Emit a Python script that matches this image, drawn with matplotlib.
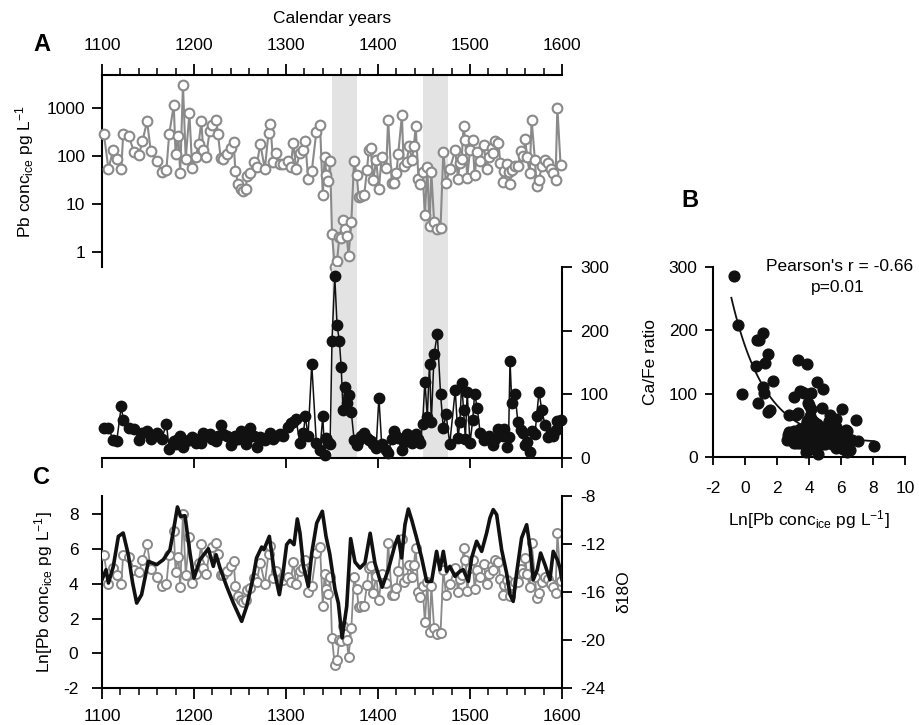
import numpy as np
import matplotlib
matplotlib.use("Agg")
import matplotlib.pyplot as plt
from matplotlib.ticker import MultipleLocator, FixedLocator, NullLocator

plt.rcParams['font.family'] = ['Liberation Sans', 'DejaVu Sans']
plt.rcParams['mathtext.fontset'] = 'custom'
plt.rcParams['mathtext.rm'] = 'Liberation Sans'
plt.rcParams['mathtext.it'] = 'Liberation Sans:italic'
plt.rcParams['mathtext.bf'] = 'Liberation Sans:bold'
plt.rcParams['font.size'] = 12.5
plt.rcParams['axes.unicode_minus'] = False

# ---- data ---------------------------------------------------------------
years = [1102, 1107, 1112, 1116, 1121, 1123, 1129, 1135, 1140, 1144, 1149, 1153,
         1160, 1165, 1170, 1173, 1178, 1180, 1183, 1185, 1188, 1191, 1195, 1198,
         1202, 1205, 1208, 1210, 1213, 1217, 1220, 1224, 1226, 1229, 1232, 1236,
         1240, 1243, 1245, 1248, 1251, 1253, 1256, 1258, 1261, 1265, 1268, 1272,
         1277, 1281, 1283, 1286, 1289, 1293, 1297, 1302, 1305, 1308, 1311, 1315,
         1319, 1321, 1324, 1328, 1333, 1337, 1340, 1342, 1344, 1346, 1348, 1350,
         1353, 1355.5, 1358, 1360, 1362, 1364, 1366, 1368, 1371, 1374, 1377, 1379,
         1382, 1385, 1388, 1390, 1392, 1395, 1398, 1401, 1404, 1409, 1411, 1415,
         1417, 1420, 1422, 1426, 1428, 1431, 1434, 1437, 1439, 1441, 1444, 1446,
         1448.5, 1451, 1453.6, 1456, 1458, 1461, 1464.5, 1468, 1471, 1474, 1478, 1484,
         1487, 1489, 1491, 1493, 1495, 1497, 1500, 1503, 1505, 1508, 1511, 1515,
         1518, 1521, 1523.5, 1525, 1527, 1531, 1533, 1535.5, 1537, 1540, 1542, 1543.5,
         1545.5, 1549, 1552, 1556, 1558, 1560, 1562, 1565, 1567, 1570.6, 1572.5, 1575,
         1578, 1581.5, 1585, 1588, 1590, 1593, 1595, 1598.5]

pb_conc = [290, 55, 133, 89, 55, 290, 262, 123, 105, 209, 537, 129,
           80, 48, 53, 290, 1150, 110, 262, 45, 3090, 89, 790, 58,
           97, 183, 537, 133, 97, 330, 443, 580, 296, 93, 89, 114,
           152, 200, 49, 27, 21, 19, 21, 38, 44, 76, 60, 183,
           55, 310, 480, 76, 117, 68, 68, 80, 60, 190, 55, 117,
           138, 209, 34, 49, 324, 457, 15.5, 97, 40, 31, 80, 2.4,
           0.5, 0.66, 2.1, 2.0, 4.8, 3.0, 2.2, 0.82, 4.2, 80, 40, 14,
           15, 15.5, 51, 138, 152, 32, 85, 21, 97, 58, 580, 28,
           28, 44, 114, 710, 62, 76, 162, 83, 162, 422, 34, 26,
           47, 5.9, 60, 3.5, 47, 4.3, 3.0, 3.25, 123, 28, 55, 133,
           34, 73, 90, 422, 215, 36, 133, 215, 40, 123, 80, 171,
           55, 97, 152, 120, 209, 190, 71, 29, 50, 68, 47, 27,
           51, 62, 62, 129, 100, 234, 97, 45, 580, 83, 24, 32,
           62, 83, 71, 55, 45, 32, 1030, 65]

ca_fe = [47, 47, 29, 27, 82, 60, 47, 45, 29, 39, 43, 30,
         40, 30, 54, 14, 26, 22, 30, 34, 18, 26, 28, 33,
         24, 30, 23, 40, 35, 37, 30, 27, 35, 52, 37, 34,
         21, 28, 34, 30, 42, 35, 22, 30, 47, 35, 18, 33,
         29, 35, 39, 30, 34, 38, 35, 48, 55, 57, 61, 23,
         40, 66, 34, 147, 24, 13, 66, 5, 31, 25, 22, 184,
         286, 209, 184, 143, 75, 111, 86, 99, 72, 29, 21, 28,
         35, 40, 31, 29, 26, 22, 16, 95, 22, 13, 8, 30,
         42, 35, 31, 12, 25, 37, 30, 23, 30, 38, 30, 23,
         54, 120, 65, 148, 57, 163, 195, 101, 47, 69, 22, 107,
         31, 56, 118, 76, 30, 103, 23, 60, 101, 78, 40, 29,
         30, 34, 28, 21, 30, 45, 40, 35, 45, 18, 33, 153,
         86, 101, 57, 44, 40, 21, 25, 9, 42, 37, 66, 104,
         76, 52, 33, 40, 35, 44, 58, 59]

d18o_years = [1100, 1104.4, 1107, 1112.3, 1117.8, 1123, 1128.6, 1133.3, 1137.7, 1143,
              1150.4, 1159.4, 1166.7, 1173.9, 1177.5, 1182, 1185.5, 1190.2, 1195.6, 1200,
              1206.5, 1215.6, 1221, 1224, 1228.3, 1235.5, 1242.8, 1251.8, 1257.3, 1264.5,
              1268, 1273.6, 1276, 1281.9, 1287, 1292.8, 1297, 1300.7, 1304.3, 1308.7,
              1312.3, 1315.2, 1319, 1324.3, 1328, 1333.4, 1339.5, 1343.5, 1347.5, 1353.3,
              1356.9, 1361, 1366, 1370.3, 1375, 1380.4, 1385.8, 1391.5, 1396.7, 1404.5,
              1411.2, 1418.5, 1422, 1425.7, 1429.3, 1433, 1436.6, 1442, 1447.5, 1452.9,
              1458.3, 1463.7, 1467.4, 1471, 1474.6, 1478.2, 1483.7, 1489, 1492.7, 1498.2,
              1501.8, 1507.2, 1512.7, 1518.1, 1521.7, 1525.3, 1529, 1534.4, 1539.8, 1543.5,
              1547, 1550.7, 1556.1, 1561.6, 1565.2, 1568.8, 1573.2, 1576.8, 1581.5, 1586.9,
              1590.5, 1594.9, 1597.8, 1600]

d18o = [-14.97, -14.14, -15.25, -13.86, -11.36, -11.08, -12.89, -15.25, -16.92, -16.22,
        -13.44, -13.72, -13.3, -12.47, -10.94, -8.91, -9.69, -9.64, -12.75, -14.83,
        -13.3, -12.39, -13.86, -12.89, -14.0, -15.53, -16.92, -18.44, -17.19, -14.69,
        -13.16, -12.25, -12.47, -11.36, -14.14, -16.22, -14.28, -12.05, -11.7, -12.05,
        -9.91, -11.08, -13.86, -15.53, -12.75, -10.25, -9.27, -11.36, -12.8, -15.8,
        -16.92, -19.83, -17.2, -11.55, -13.5, -14.0, -13.58, -11.1, -13.6, -15.6,
        -14.14, -12.05, -11.36, -13.16, -10.39, -9.08, -9.97, -11.5, -13.16, -15.11,
        -15.11, -12.61, -14.14, -12.61, -14.28, -13.86, -14.69, -14.28, -14.14, -15.11,
        -13.16, -11.77, -12.61, -11.08, -9.83, -9.13, -9.55, -12.47, -14.42, -16.22,
        -16.78, -14.42, -11.5, -10.39, -12.19, -14.97, -14.14, -12.75, -13.72, -14.97,
        -12.61, -13.3, -14.0, -14.97]

# shaded intervals (calendar years)
shade_periods = [(1350, 1377), (1449, 1476)]

# exponential fit shown in panel B: y = fit_c + fit_a * exp(-fit_b * x)
fit_a, fit_b, fit_c = 153.7, 0.47, 22.0
fit_range = (-0.85, 8.05)

ln_pb = np.log(pb_conc)

GREY = '#8a8a8a'
BLACK = '#111111'
SHADE = '#e3e3e3'

fig = plt.figure(figsize=(9.19, 7.25), dpi=100)

ax_top = fig.add_axes([0.1110, 0.6317, 0.5005, 0.2648])
ax_mid = fig.add_axes([0.1110, 0.3683, 0.5005, 0.2634], facecolor='none')
ax_c = fig.add_axes([0.1110, 0.0510, 0.5005, 0.2648])
ax_b = fig.add_axes([0.7758, 0.3692, 0.2089, 0.2629])

for ax in (ax_top, ax_mid, ax_c):
    ax.set_xlim(1100, 1600)

# ---- panel A, top: Pb concentration (log) ------------------------------
for a, b in shade_periods:
    ax_top.axvspan(a, b, color=SHADE, lw=0, zorder=0)
ax_top.plot(years, pb_conc, '-o', color=GREY, lw=1.5, ms=7, mfc='white',
            mec=GREY, mew=1.5, clip_on=False, zorder=3)
ax_top.set_yscale('log')
ax_top.set_ylim(0.494, 4940)
ax_top.yaxis.set_major_locator(FixedLocator([1, 10, 100, 1000]))
ax_top.yaxis.set_minor_locator(NullLocator())
ax_top.set_yticklabels(['1', '10', '100', '1000'])
ax_top.xaxis.set_major_locator(MultipleLocator(100))
ax_top.xaxis.set_minor_locator(MultipleLocator(20))
ax_top.tick_params(axis='x', which='both', top=True, bottom=False,
                   labeltop=True, labelbottom=False, direction='out')
ax_top.tick_params(axis='x', which='major', length=8, width=1.3, pad=8)
ax_top.tick_params(axis='x', which='minor', length=5, width=1.1)
ax_top.tick_params(axis='y', length=7, width=1.3, pad=5)
for s in ('bottom', 'right'):
    ax_top.spines[s].set_visible(False)
for s in ('top', 'left'):
    ax_top.spines[s].set_linewidth(1.5)
ax_top.set_ylabel(r'Pb conc$_{\mathrm{ice}}$ pg L$^{-1}$', labelpad=8)

# ---- panel A, middle: Ca/Fe ratio ---------------------------------------
for a, b in shade_periods:
    ax_mid.axvspan(a, b, color=SHADE, lw=0, zorder=0)
ax_mid.plot(years, ca_fe, '-o', color=BLACK, lw=1.1, ms=7.5, mfc=BLACK,
            mec=BLACK, clip_on=False, zorder=3)
ax_mid.set_ylim(0, 300)
ax_mid.yaxis.set_major_locator(MultipleLocator(100))
ax_mid.yaxis.tick_right()
ax_mid.xaxis.set_major_locator(MultipleLocator(100))
ax_mid.tick_params(axis='x', length=7, width=1.3, labelbottom=False)
ax_mid.tick_params(axis='y', length=7, width=1.3, pad=6)
for s in ('top', 'left'):
    ax_mid.spines[s].set_visible(False)
for s in ('bottom', 'right'):
    ax_mid.spines[s].set_linewidth(1.5)

# ---- panel C: ln Pb and d18O -------------------------------------------
ax_c.plot(years, ln_pb, '-o', color=GREY, lw=1.3, ms=6.5, mfc='white',
          mec=GREY, mew=1.4, zorder=3)
ax_c.set_ylim(-2, 9.05)
ax_c.yaxis.set_major_locator(FixedLocator([-2, 0, 2, 4, 6, 8]))
ax_c.xaxis.set_major_locator(MultipleLocator(100))
ax_c.xaxis.set_minor_locator(MultipleLocator(20))
ax_c.tick_params(axis='x', which='major', length=8, width=1.3, pad=7)
ax_c.tick_params(axis='x', which='minor', length=5, width=1.1)
ax_c.tick_params(axis='y', length=7, width=1.3, pad=10)
ax_c.spines['top'].set_visible(False)
ax_c.spines['right'].set_visible(False)
for s in ('bottom', 'left'):
    ax_c.spines[s].set_linewidth(1.5)
ax_c.set_ylabel(r'Ln[Pb conc$_{\mathrm{ice}}$ pg L$^{-1}$]', labelpad=6)

ax_c2 = ax_c.twinx()
ax_c2.plot(d18o_years, d18o, color=BLACK, lw=2.6, zorder=4)
ax_c2.set_ylim(-24, -8)
ax_c2.yaxis.set_major_locator(MultipleLocator(4))
ax_c2.tick_params(axis='y', length=7, width=1.3, pad=6)
for s in ('top', 'left', 'bottom'):
    ax_c2.spines[s].set_visible(False)
ax_c2.spines['right'].set_linewidth(1.5)
ax_c2.set_ylabel('δ18O', labelpad=8, rotation=90)

# ---- panel B: Ca/Fe vs ln Pb -------------------------------------------
ax_b.scatter(ln_pb, ca_fe, s=60, color=BLACK, clip_on=False, zorder=3)
xf = np.linspace(fit_range[0], fit_range[1], 100)
ax_b.plot(xf, fit_c + fit_a * np.exp(-fit_b * xf), color=BLACK, lw=1.3, zorder=4)
ax_b.set_xlim(-2, 10)
ax_b.set_ylim(0, 300)
ax_b.xaxis.set_major_locator(MultipleLocator(2))
ax_b.yaxis.set_major_locator(MultipleLocator(100))
ax_b.tick_params(axis='x', length=6, width=1.3, pad=11)
ax_b.tick_params(axis='y', length=6, width=1.3, pad=5)
for s in ('top', 'right'):
    ax_b.spines[s].set_visible(False)
for s in ('bottom', 'left'):
    ax_b.spines[s].set_linewidth(1.5)
ax_b.set_ylabel('Ca/Fe ratio', labelpad=8)
ax_b.set_xlabel(r'Ln[Pb conc$_{\mathrm{ice}}$ pg L$^{-1}$]', labelpad=9)
ax_b.text(5.9, 300, "Pearson's r = -0.66", ha='center', va='center', clip_on=False)
ax_b.text(5.8, 268, 'p=0.01', ha='center', va='center', clip_on=False)

# ---- labels -------------------------------------------------------------
fig.text(0.361, 0.975, 'Calendar years', ha='center', va='center')
fig.text(0.0457, 0.938, 'A', ha='center', va='center', fontsize=17, fontweight='bold')
fig.text(0.751, 0.724, 'B', ha='center', va='center', fontsize=17, fontweight='bold')
fig.text(0.0457, 0.341, 'C', ha='center', va='center', fontsize=17, fontweight='bold')

fig.savefig('out.png', dpi=100)
